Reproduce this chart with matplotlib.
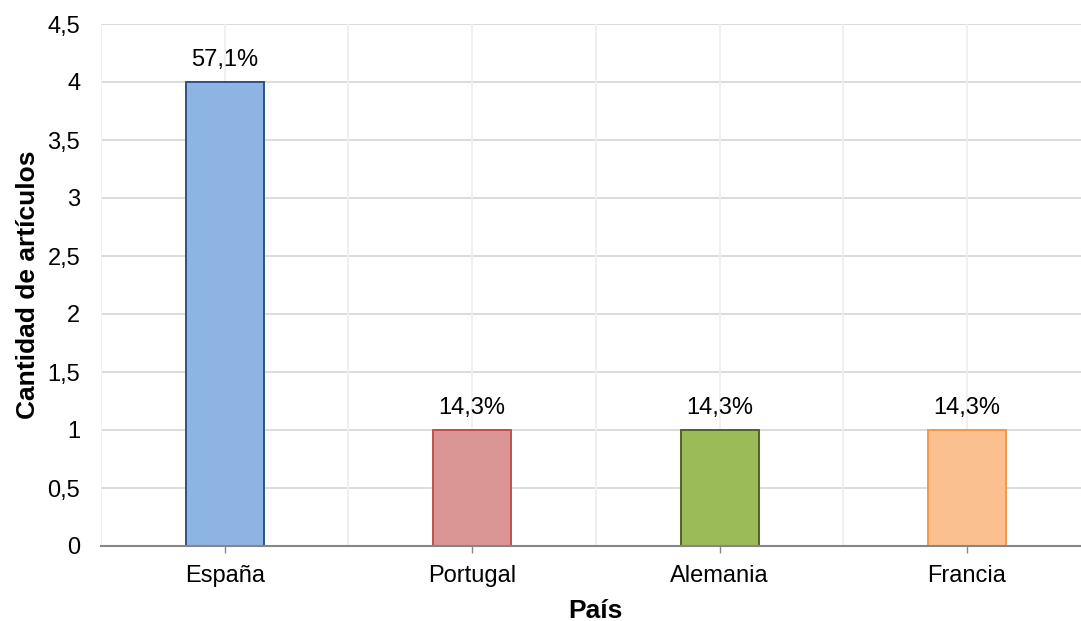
import matplotlib
matplotlib.use("Agg")
import matplotlib.pyplot as plt
import numpy as np

paises = ["España", "Portugal", "Alemania", "Francia"]
articulos = [4, 1, 1, 1]
rellenos = ["#8EB4E3", "#D99694", "#9BBB59", "#FAC090"]
bordes = ["#2C5287", "#C0504D", "#4F6228", "#F79646"]
y_ticks = [0, 0.5, 1, 1.5, 2, 2.5, 3, 3.5, 4, 4.5]

plt.rcParams["font.family"] = ["Liberation Sans", "DejaVu Sans"]

fig = plt.figure(figsize=(10.81, 6.21), dpi=100)
ax = fig.add_axes([101 / 1081, 1 - 546 / 621, 989.7 / 1081, 522 / 621])

x = np.arange(len(paises))
total = sum(articulos)

ax.set_xlim(-0.5, len(paises) - 0.5)
ax.set_ylim(0, 4.5)

# horizontal gridlines
for yv in y_ticks:
    ax.axhline(yv, color="#D9D9D9", lw=1.3, zorder=0)
# vertical gridlines at category centres and boundaries
for xv in np.arange(-0.5, len(paises), 0.5):
    ax.axvline(xv, color="#EFEFEF", lw=1.3, zorder=0)

ax.bar(x, articulos, width=0.315, color=rellenos, edgecolor=bordes,
       linewidth=1.4, zorder=3)

for xi, v in zip(x, articulos):
    pct = f"{100 * v / total:.1f}%".replace(".", ",")
    ax.annotate(pct, (xi, v), xytext=(0, 8), textcoords="offset points",
                ha="center", va="bottom", fontsize=17, color="#000000")

for s in ["top", "right", "left"]:
    ax.spines[s].set_visible(False)
ax.spines["bottom"].set_color("#868686")
ax.spines["bottom"].set_linewidth(1.5)
ax.spines["bottom"].set_zorder(4)

ax.set_xticks(x)
ax.set_xticklabels(paises, fontsize=17)
ax.tick_params(axis="x", direction="out", length=5, width=1, color="#868686", pad=9)

ax.set_yticks(y_ticks)
ax.set_yticklabels([f"{t:g}".replace(".", ",") for t in y_ticks], fontsize=17)
ax.tick_params(axis="y", length=0, pad=15)

ax.set_xlabel("País", fontsize=19, fontweight="bold", labelpad=8)
ax.set_ylabel("Cantidad de artículos", fontsize=19, fontweight="bold", labelpad=5)

fig.savefig("out.png", dpi=100)
